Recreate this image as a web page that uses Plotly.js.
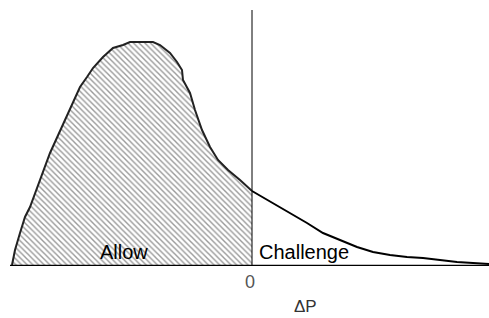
<!DOCTYPE html>
<html>
<head>
<meta charset="utf-8">
<script src="https://cdn.plot.ly/plotly-3.0.1.min.js"></script>
<style>html,body{margin:0;padding:0;background:#fff}#chart{width:489px;height:318px}</style>
</head>
<body>
<div id="chart"></div>
<script>
// Allow region (ΔP < 0) density curve
const allowDP = [-240, -237, -232, -227, -222, -217, -212, -207, -202, -197, -190, -182, -172, -165, -159, -149, -139, -129, -122, -99, -92, -82, -75, -70, -69, -62, -57, -50, -42, -34, -24, -12, 0];
const allowDensity = [1, 16, 33, 49, 59, 73, 86, 99, 113, 124, 139, 157, 179, 189, 198, 209, 218, 221, 224, 224, 221, 213, 204, 196, 186, 173, 156, 136, 119, 106, 96, 86, 75];
// Challenge region (ΔP > 0) density curve
const challengeDP = [0, 21, 38, 55, 71, 88, 105, 121, 138, 155, 171, 188, 205, 221, 237];
const challengeDensity = [75, 63, 53, 43, 33, 26, 19, 14, 11, 9, 8, 6, 4, 3, 2];
const regionLabels = ["Allow", "Challenge"];
const tickLabel = "0";
const axisLabel = "ΔP";

const font = "Liberation Sans, Arial, sans-serif";

const traces = [
  {
    x: allowDP, y: allowDensity, type: "scatter", mode: "lines",
    fill: "tozeroy",
    fillcolor: "rgba(255,255,255,1)",
    fillpattern: {shape: "\\", size: 4, solidity: 0.35, fgcolor: "#9a9a9a", bgcolor: "#ffffff"},
    line: {color: "#222", width: 2},
    hoverinfo: "skip"
  },
  {
    x: challengeDP, y: challengeDensity, type: "scatter", mode: "lines",
    line: {color: "#000", width: 2},
    hoverinfo: "skip"
  }
];

const layout = {
  width: 489, height: 318,
  margin: {l: 10, r: 0, t: 10, b: 52},
  paper_bgcolor: "#fff", plot_bgcolor: "#fff",
  showlegend: false,
  xaxis: {range: [-242, 237], showgrid: false, zeroline: false, showticklabels: false, showline: false, ticks: ""},
  yaxis: {range: [0, 256], showgrid: false, zeroline: false, showticklabels: false, showline: false, ticks: ""},
  shapes: [
    {type: "line", xref: "x", yref: "y", x0: 0, x1: 0, y0: 0, y1: 256, line: {color: "#000", width: 1}},
    {type: "line", xref: "paper", yref: "y", x0: 0, x1: 1, y0: 0, y1: 0, line: {color: "#000", width: 2.5}}
  ],
  annotations: [
    {x: -128.5, y: 14, xref: "x", yref: "y", text: regionLabels[0], showarrow: false, xanchor: "center", yanchor: "middle", font: {family: font, size: 20, color: "#000"}},
    {x: 51.5, y: 14, xref: "x", yref: "y", text: regionLabels[1], showarrow: false, xanchor: "center", yanchor: "middle", font: {family: font, size: 20, color: "#000"}},
    {x: -2, y: -0.0625, xref: "x", yref: "paper", text: tickLabel, showarrow: false, xanchor: "center", yanchor: "middle", font: {family: font, size: 18, color: "#555"}},
    {x: 53, y: -0.158, xref: "x", yref: "paper", text: axisLabel, showarrow: false, xanchor: "center", yanchor: "middle", borderpad: 0, font: {family: font, size: 17, color: "#333"}}
  ]
};

Plotly.newPlot("chart", traces, layout, {displayModeBar: false, staticPlot: true});
</script>
</body>
</html>
